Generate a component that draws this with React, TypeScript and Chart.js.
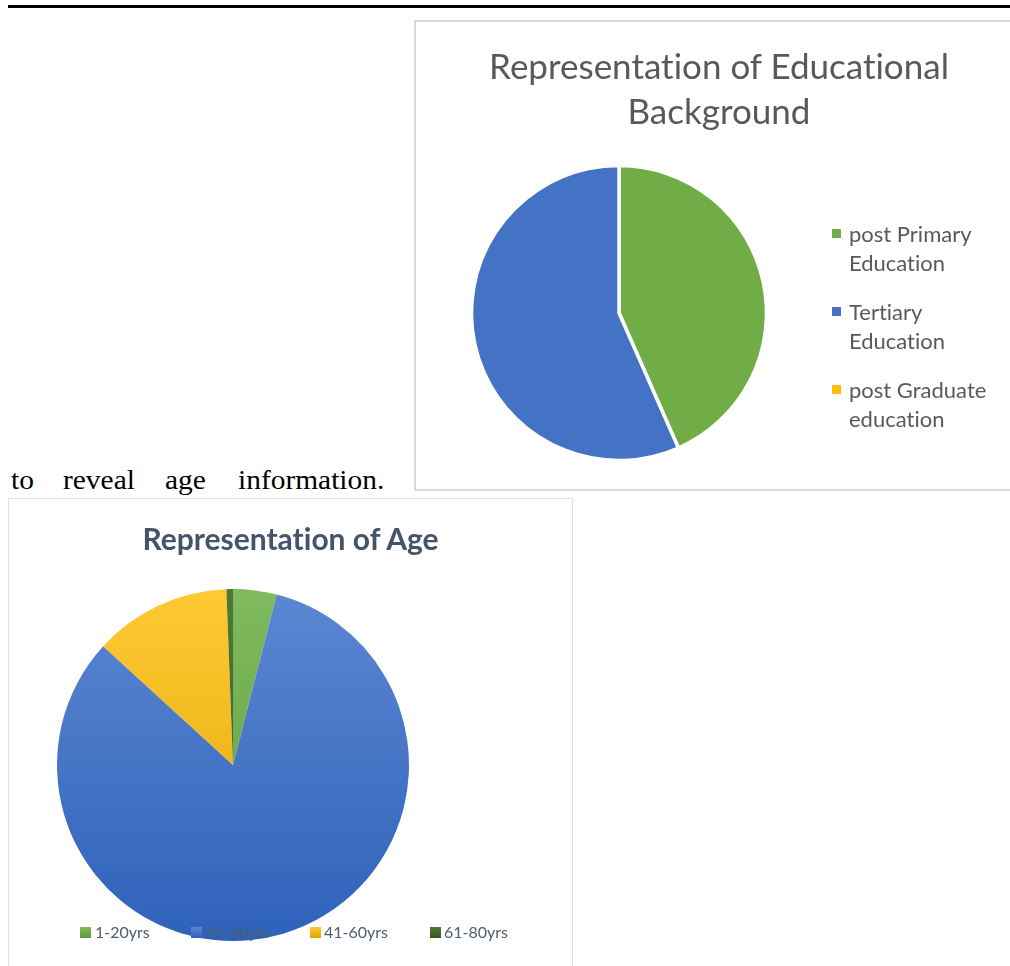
import React, { useEffect, useRef } from "react";
import { Chart, registerables } from "chart.js";

Chart.register(...registerables);

// ---- Educational background chart data ----
const eduLabels = ["post Primary Education", "Tertiary Education", "post Graduate education"];
const eduLegendLines = [
  ["post Primary", "Education"],
  ["Tertiary", "Education"],
  ["post Graduate", "education"],
];
const eduValues = [43.4, 56.6, 0];
const eduColors = ["#70AD47", "#4472C4", "#FFC000"];

// ---- Age chart data ----
const ageLabels = ["1-20yrs", "21-40yrs", "41-60yrs", "61-80yrs"];
const ageValues = [4.0, 82.8, 12.6, 0.6];
const ageTopColors = ["#80BA5E", "#5C87D2", "#FFC935", "#4F7A35"];
const ageBottomColors = ["#5E9A3D", "#2E62BA", "#E0A600", "#375623"];

const paraWords = ["to", "reveal", "age", "information."];

const SANS = "Lato, Carlito, Calibri, 'Noto Sans', sans-serif";

function EduPie() {
  const ref = useRef<HTMLCanvasElement | null>(null);
  useEffect(() => {
    if (!ref.current) return;
    const chart = new Chart(ref.current, {
      type: "pie",
      data: {
        labels: eduLabels,
        datasets: [
          {
            data: eduValues,
            backgroundColor: eduColors,
            borderColor: "#FFFFFF",
            borderWidth: 3.5,
            radius: 147.5,
          } as any,
        ],
      },
      options: {
        responsive: false,
        maintainAspectRatio: false,
        animation: false,
        events: [],
        layout: { padding: { top: 146, bottom: 30, left: 58, right: 258 } },
        plugins: {
          legend: { display: false },
          title: { display: false },
          tooltip: { enabled: false },
        },
      },
    });
    return () => chart.destroy();
  }, []);
  return (
    <canvas
      ref={ref}
      width={608}
      height={468}
      style={{ position: "absolute", left: 415, top: 21, width: 608, height: 468 }}
    />
  );
}

function AgePie() {
  const ref = useRef<HTMLCanvasElement | null>(null);
  useEffect(() => {
    if (!ref.current) return;
    const chart = new Chart(ref.current, {
      type: "pie",
      data: {
        labels: ageLabels,
        datasets: [
          {
            data: ageValues,
            backgroundColor: (ctx: any) => {
              const i = ctx.dataIndex;
              const area = ctx.chart.chartArea;
              if (!area) return ageTopColors[i];
              const g = ctx.chart.ctx.createLinearGradient(0, area.top, 0, area.bottom);
              g.addColorStop(0, ageTopColors[i]);
              g.addColorStop(1, ageBottomColors[i]);
              return g;
            },
            borderWidth: 0,
            radius: 176,
          } as any,
        ],
      },
      options: {
        responsive: false,
        maintainAspectRatio: false,
        animation: false,
        events: [],
        layout: { padding: { top: 90, bottom: 25, left: 48, right: 163 } },
        plugins: {
          legend: { display: false },
          title: { display: false },
          tooltip: { enabled: false },
        },
      },
    });
    return () => chart.destroy();
  }, []);
  return (
    <canvas
      ref={ref}
      width={563}
      height={467}
      style={{ position: "absolute", left: 9, top: 499, width: 563, height: 467 }}
    />
  );
}

export default function App() {
  const eduLegendCenters = [233.5, 311, 389];
  const ageSquareX = [80, 191, 310, 430];
  const ageTextX = [95, 205, 324, 444];
  const wordX = [11, 63, 165, 238];
  return (
    <div
      style={{
        position: "absolute",
        left: 0,
        top: 0,
        width: 1010,
        height: 966,
        overflow: "hidden",
        background: "#FFFFFF",
        fontVariantLigatures: "none",
      }}
    >
      {/* top rule */}
      <div style={{ position: "absolute", left: 8, top: 5, width: 1002, height: 3, background: "#000" }} />

      {/* chart frames */}
      <div
        style={{
          position: "absolute",
          left: 414,
          top: 20,
          width: 620,
          height: 471,
          border: "2px solid #D9D9D9",
          boxSizing: "border-box",
        }}
      />
      <div
        style={{
          position: "absolute",
          left: 8,
          top: 498,
          width: 565,
          height: 480,
          border: "1px solid #DCE1E8",
          boxSizing: "border-box",
        }}
      />

      <EduPie />
      <AgePie />

      {/* Educational chart title */}
      <div
        style={{
          position: "absolute",
          left: 415,
          top: 43,
          width: 608,
          textAlign: "center",
          fontFamily: SANS,
          fontSize: 35,
          lineHeight: "45px",
          color: "#595959",
          whiteSpace: "nowrap",
          fontVariantLigatures: "none",
        }}
      >
        Representation of Educational
        <br />
        Background
      </div>

      {/* Educational legend */}
      {eduLegendLines.map((lines, i) => (
        <React.Fragment key={i}>
          <div
            style={{
              position: "absolute",
              left: 832,
              top: eduLegendCenters[i] - 4.5,
              width: 9,
              height: 9,
              background: eduColors[i],
            }}
          />
          <div
            style={{
              position: "absolute",
              left: 849,
              top: eduLegendCenters[i] - 14.5,
              fontFamily: SANS,
              fontSize: 22,
              lineHeight: "29px",
              color: "#595959",
              whiteSpace: "nowrap",
              fontVariantLigatures: "none",
            }}
          >
            {lines[0]}
            <br />
            {lines[1]}
          </div>
        </React.Fragment>
      ))}

      {/* paragraph text */}
      {paraWords.map((w, i) => (
        <span
          key={i}
          style={{
            position: "absolute",
            left: wordX[i],
            top: 467,
            fontFamily: "'Liberation Serif', 'Times New Roman', serif",
            fontSize: 27,
            lineHeight: "27px",
            color: "#000",
            transform: "scaleX(1.09)",
            transformOrigin: "left top",
            whiteSpace: "nowrap",
          }}
        >
          {w}
        </span>
      ))}

      {/* Age chart title */}
      <div
        style={{
          position: "absolute",
          left: 8,
          top: 520,
          width: 565,
          textAlign: "center",
          fontFamily: SANS,
          fontWeight: 700,
          fontSize: 30,
          lineHeight: "36px",
          color: "#44546A",
          whiteSpace: "nowrap",
          fontVariantLigatures: "none",
        }}
      >
        Representation of Age
      </div>

      {/* Age legend */}
      {ageLabels.map((lab, i) => (
        <React.Fragment key={lab}>
          <div
            style={{
              position: "absolute",
              left: ageSquareX[i],
              top: 927,
              width: 11,
              height: 11,
              background: `linear-gradient(${ageTopColors[i]}, ${ageBottomColors[i]})`,
            }}
          />
          <div
            style={{
              position: "absolute",
              left: ageTextX[i],
              top: 922,
              fontFamily: SANS,
              fontSize: 16,
              lineHeight: "20px",
              color: "#505B6C",
              whiteSpace: "nowrap",
            }}
          >
            {lab}
          </div>
        </React.Fragment>
      ))}
    </div>
  );
}
